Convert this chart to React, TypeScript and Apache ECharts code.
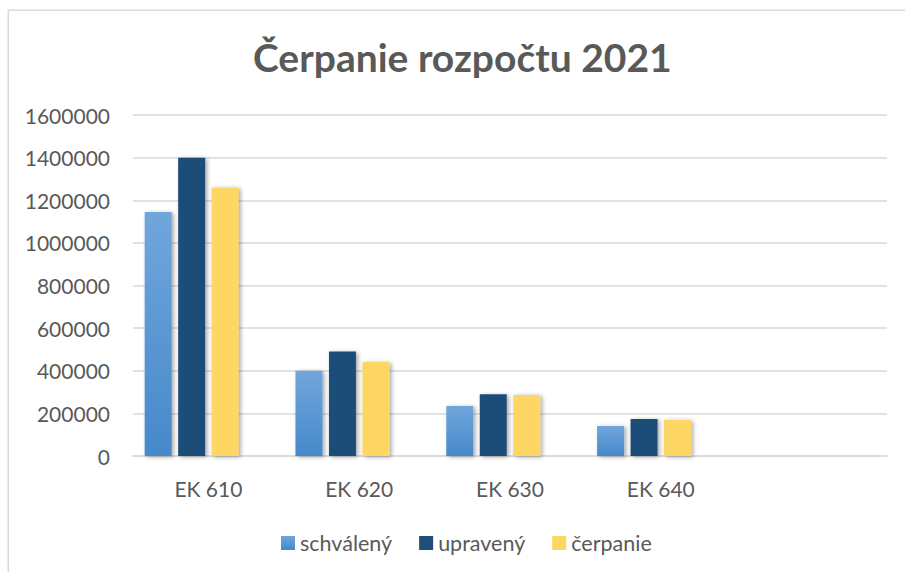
import React, { useEffect, useRef } from "react";
import * as echarts from "echarts";

const categories = ["EK 610", "EK 620", "EK 630", "EK 640", ""];
const schvaleny = [1145000, 400000, 235000, 141000];
const upraveny = [1400000, 490000, 290000, 174000];
const cerpanie = [1260000, 441000, 286000, 170000];
const hidden: (number | null)[] = [null, null, null, null];
const seriesNames = ["schválený", "upravený", "čerpanie"];
const titleText = "Čerpanie rozpočtu 2021";

const FONT = "Lato";
const TEXT = "#595959";
const GRID = "#d9d9d9";

export default function App() {
  const ref = useRef<HTMLDivElement>(null);
  useEffect(() => {
    if (!ref.current) return;
    const chart = echarts.init(ref.current, undefined, { renderer: "svg" });
    const shadow = {
      shadowColor: "rgba(0,0,0,0.35)",
      shadowBlur: 4,
      shadowOffsetX: 2,
      shadowOffsetY: 1,
    };
    const common = { type: "bar" as const, barWidth: 27, barGap: "24%" };
    chart.setOption({
      animation: false,
      backgroundColor: "#ffffff",
      title: {
        text: titleText,
        left: 248,
        top: 32,
        textStyle: { fontFamily: FONT, fontWeight: "bold", fontSize: 39, color: TEXT },
      },
      legend: {
        data: seriesNames,
        left: 276,
        top: 527,
        itemWidth: 14,
        itemHeight: 14,
        itemGap: 27,
        icon: "rect",
        textStyle: { fontFamily: FONT, fontSize: 21.5, color: TEXT, padding: [0, 0, 0, 0] },
      },
      grid: { left: 133, right: 18, top: 115, bottom: 116, containLabel: false },
      xAxis: {
        type: "category",
        data: categories,
        axisLine: { lineStyle: { color: GRID, width: 1.5 } },
        axisTick: { show: false },
        axisLabel: { fontFamily: FONT, fontSize: 21, color: TEXT, margin: 22, interval: 0 },
      },
      yAxis: {
        type: "value",
        min: 0,
        max: 1600000,
        interval: 200000,
        axisLine: { show: false },
        axisTick: { show: false },
        splitLine: { lineStyle: { color: GRID, width: 1.5 } },
        axisLabel: {
          fontFamily: FONT,
          fontSize: 21,
          color: TEXT,
          margin: 23,
          formatter: (v: number) => String(v),
        },
      },
      graphic: [
        {
          type: "rect",
          shape: { x: 8.25, y: 10.25, width: 1200, height: 1200 },
          style: { fill: "none", stroke: GRID, lineWidth: 1.5 },
          silent: true,
        },
      ],
      series: [
        {
          ...common,
          name: seriesNames[0],
          data: schvaleny,
          itemStyle: {
            color: new echarts.graphic.LinearGradient(0, 0, 0, 1, [
              { offset: 0, color: "#71a6dc" },
              { offset: 1, color: "#4689cb" },
            ]),
            ...shadow,
          },
        },
        {
          ...common,
          name: seriesNames[1],
          data: upraveny,
          itemStyle: { color: "#1f4e79", ...shadow },
        },
        {
          ...common,
          name: seriesNames[2],
          data: cerpanie,
          itemStyle: { color: "#fed664", ...shadow },
        },
        {
          ...common,
          name: "hidden",
          data: hidden,
          itemStyle: { color: "transparent" },
        },
      ],
    });
    return () => chart.dispose();
  }, []);
  return (
    <div
      ref={ref}
      style={{ position: "absolute", left: 0, top: 0, width: 905, height: 572 }}
    />
  );
}
